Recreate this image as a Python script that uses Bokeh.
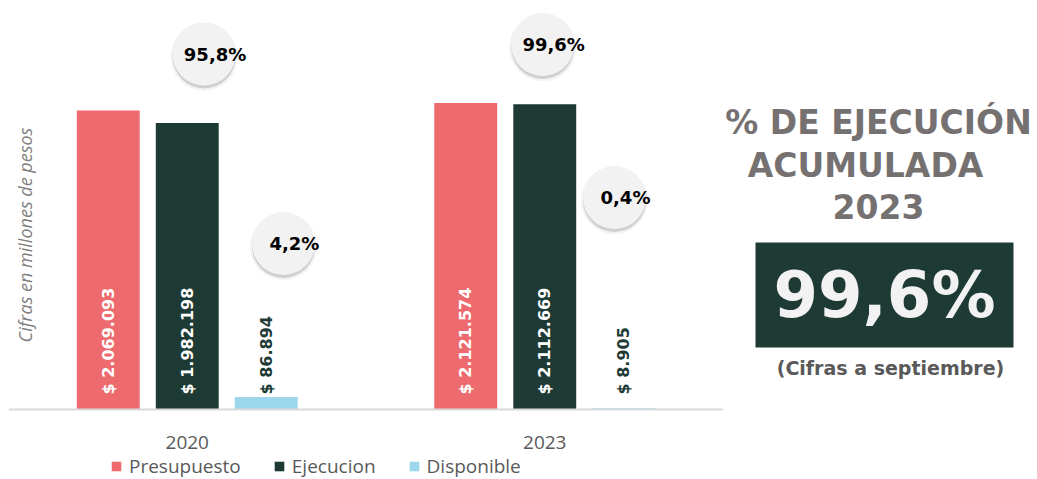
import math
from bokeh.plotting import figure
from bokeh.models import (ColumnDataSource, FactorRange, Range1d, Legend, LegendItem)
from bokeh.layouts import row
from bokeh.transform import dodge
from bokeh.core.properties import value
from bokeh.embed import file_html
from bokeh.resources import INLINE

# ---------------- data ----------------
years = ["2020", "2023"]
series = ["Presupuesto", "Ejecucion", "Disponible"]
presupuesto = [2069093, 2121574]
ejecucion = [1982198, 2112669]
disponible = [86894, 8905]
y_title = "Cifras en millones de pesos"
panel_lines = ["% DE EJECUCIÓN", "ACUMULADA", "2023"]
panel_note = "(Cifras a septiembre)"

# ---------------- styles / layout ----------------
colors = ["#ED6B6E", "#1E3A35", "#9DD7EB"]
label_colors = ["#FFFFFF", "#FFFFFF", "#1E3A35"]
offsets = [-0.221, 0.0, 0.221]
bar_w = 0.176
BOLD = value("DejaVu Sans")
PX = 6920  # data units per pixel

def money(v):
    return "$ " + f"{v:,}".replace(",", ".")

def pct(r):
    return f"{r*100:.1f}".replace(".", ",") + "%"

src = ColumnDataSource(dict(
    year=years,
    Presupuesto=presupuesto,
    Ejecucion=ejecucion,
    Disponible=disponible,
    lab_Presupuesto=[money(v) for v in presupuesto],
    lab_Ejecucion=[money(v) for v in ejecucion],
    lab_Disponible=[money(v) for v in disponible],
))

p = figure(x_range=FactorRange(factors=years, range_padding=0),
           y_range=Range1d(-70 * PX, 409 * PX),
           width=723, height=479, output_backend="svg", toolbar_location=None,
           y_axis_location=None, min_border_left=8, min_border_right=0,
           min_border_top=0, min_border_bottom=0)
p.outline_line_color = None
p.xgrid.visible = False
p.ygrid.visible = False
p.background_fill_color = "white"
p.border_fill_color = "white"

renderers = []
for s, c, lc, off in zip(series, colors, label_colors, offsets):
    r = p.vbar(x=dodge("year", off, range=p.x_range), top=s, width=bar_w,
               source=src, fill_color=c, line_color=None)
    renderers.append(r)
    p.text(x=dodge("year", off, range=p.x_range), y=0, text="lab_" + s, source=src,
           angle=math.pi / 2, text_align="left", text_baseline="middle",
           y_offset=-15, text_font=BOLD, text_font_style="bold",
           text_font_size="16px", text_color=lc)

# percentage bubbles (share of budget)
ratios = [ejecucion[0] / presupuesto[0], disponible[0] / presupuesto[0],
          ejecucion[1] / presupuesto[1], disponible[1] / presupuesto[1]]
bubble_cat = [0, 0, 1, 1]
bubble_dx = [0.047, 0.269, -0.006, 0.195]
bubble_y = [2460000, 1148700, 2525800, 1467000]
bsrc = ColumnDataSource(dict(
    x=[i + 0.5 + d for i, d in zip(bubble_cat, bubble_dx)],
    y=bubble_y,
    ys=[v - 3 * PX for v in bubble_y],
    txt=[pct(r) for r in ratios],
))
p.scatter(x="x", y="ys", source=bsrc, marker="circle", size=67,
          fill_color="#BFBFBF", fill_alpha=0.18, line_color=None)
p.scatter(x="x", y="ys", source=bsrc, marker="circle", size=63,
          fill_color="#A6A6A6", fill_alpha=0.45, line_color=None)
p.scatter(x="x", y="y", source=bsrc, marker="circle", size=63,
          fill_color="#F2F2F2", line_color=None)
p.text(x="x", y="y", text="txt", source=bsrc, x_offset=11,
       text_align="center", text_baseline="middle", text_font=BOLD,
       text_font_style="bold", text_font_size="18px", text_color="#000000")

# y title inside plot
p.text(x=[0.045], y=[1207500], text=[y_title], angle=math.pi / 2,
       text_align="center", text_baseline="middle", text_font=value("Open Sans"),
       text_font_style="italic", text_font_size="18px", text_color="#7F7F7F")

ax = p.xaxis[0]
ax.fixed_location = 0
ax.axis_line_color = "#D9D9D9"
ax.axis_line_width = 2
ax.major_tick_line_color = None
ax.minor_tick_line_color = None
ax.major_label_text_font = "Open Sans"
ax.major_label_text_font_size = "19px"
ax.major_label_text_color = "#595959"
ax.major_label_standoff = 20

legend = Legend(items=[LegendItem(label=s, renderers=[r]) for s, r in zip(series, renderers)],
                location=(102, 0), orientation="horizontal",
                label_text_font="Open Sans", label_text_font_size="19px",
                label_text_color="#595959", glyph_width=12, glyph_height=12,
                label_standoff=7, spacing=32, padding=0, margin=0,
                border_line_color=None, background_fill_alpha=0)
p.add_layout(legend)

# ---------------- right panel ----------------
q = figure(x_range=Range1d(0, 314), y_range=Range1d(479, 0), width=314, height=479,
           output_backend="svg", toolbar_location=None, x_axis_type=None,
           y_axis_type=None, min_border=0)
q.outline_line_color = None
q.xgrid.visible = False
q.ygrid.visible = False

q.text(x=[155, 142, 155], y=[122, 165, 206], text=panel_lines,
       text_align="center", text_baseline="middle", text_font=BOLD,
       text_font_style="bold", text_font_size="33px", text_color="#767171")
q.quad(left=[32], right=[290], top=[242], bottom=[347],
       fill_color="#1E3A34", line_color=None)
q.text(x=[161], y=[294], text=[pct(ratios[2])], text_align="center",
       text_baseline="middle", text_font=BOLD, text_font_style="bold",
       text_font_size="64px", text_color="#F2F2F2")
q.text(x=[167], y=[367], text=[panel_note], text_align="center",
       text_baseline="middle", text_font=BOLD, text_font_style="bold",
       text_font_size="19px", text_color="#595959")

layout = row(p, q, spacing=0)
open("out.html", "w").write(file_html(layout, INLINE))
